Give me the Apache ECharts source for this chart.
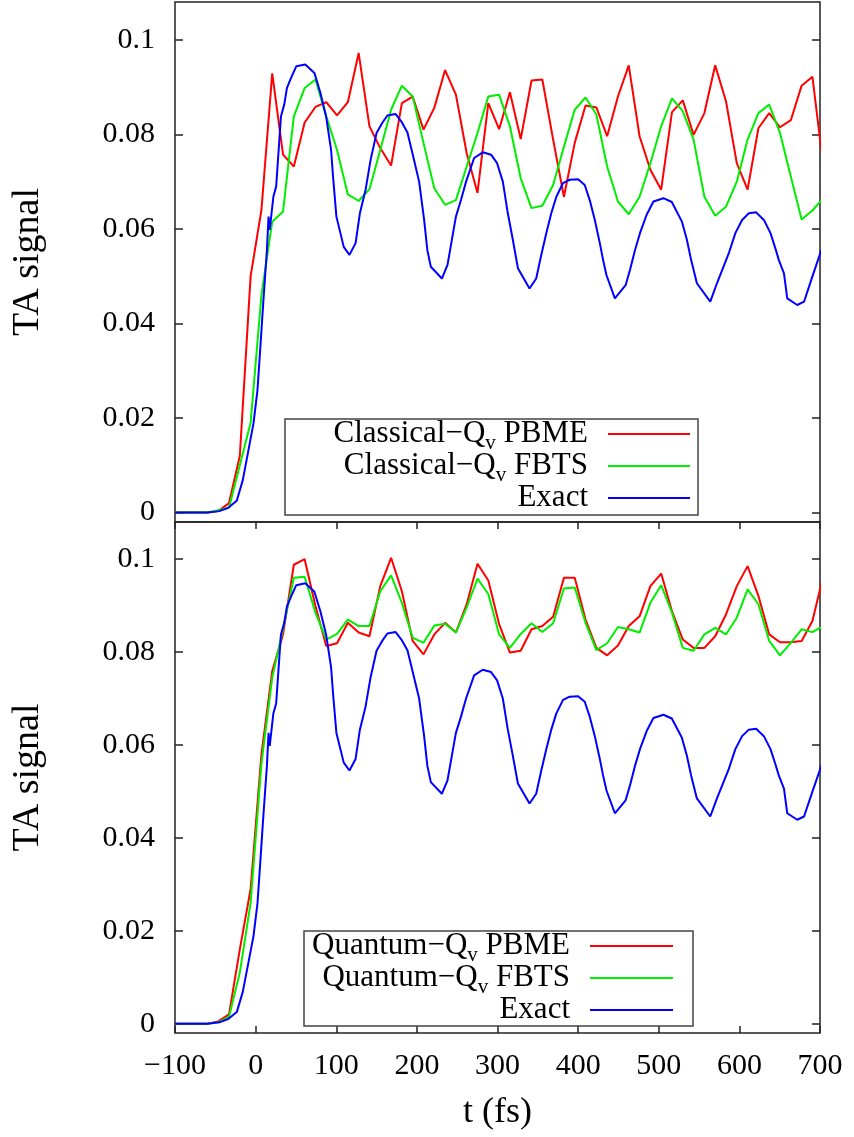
<!DOCTYPE html>
<html>
<head>
<meta charset="utf-8">
<script src="https://cdn.jsdelivr.net/npm/echarts@6/dist/echarts.min.js"></script>
<style>
  html, body { margin: 0; padding: 0; background: #fff; }
  #main { width: 854px; height: 1137px; }
</style>
</head>
<body>
<div id="main"></div>
<script>
// time grid of the PBME / FBTS runs (fs)
const tGrid = [
  -100, -86.6, -73.2, -59.8, -46.4, -33, -19.6, -6.2, 7.2, 20.6,
  34, 47.4, 60.8, 74.2, 87.6, 101, 114.4, 127.8, 141.2, 154.6,
  168, 181.4, 194.8, 208.2, 221.6, 235, 248.4, 261.8, 275.2, 288.6,
  302, 315.4, 328.8, 342.2, 355.6, 369, 382.4, 395.8, 409.2, 422.6,
  436, 449.4, 462.8, 476.2, 489.6, 503, 516.4, 529.8, 543.2, 556.6,
  570, 583.4, 596.8, 610.2, 623.6, 637, 650.4, 663.8, 677.2, 690.6,
  704,
];

// upper panel: classical-Qv
const topPbme = [
  0, 0, 0, 0, 0.0003, 0.002, 0.012, 0.05, 0.064, 0.0929,
  0.0757, 0.0732, 0.0825, 0.0858, 0.0868, 0.084, 0.0868, 0.0972, 0.0817, 0.0771,
  0.0734, 0.0866, 0.088, 0.081, 0.0856, 0.0936, 0.0884, 0.076, 0.0676, 0.0866,
  0.0811, 0.0889, 0.079, 0.0914, 0.0916, 0.0789, 0.0668, 0.0782, 0.0861, 0.0857,
  0.0796, 0.088, 0.0946, 0.0796, 0.0725, 0.0683, 0.0847, 0.0872, 0.0799, 0.0845,
  0.0946, 0.087, 0.0739, 0.0683, 0.0813, 0.0845, 0.0815, 0.083, 0.0903, 0.0922,
  0.0734,
];
const topFbts = [
  0, 0, 0, 0, 0.0005, 0.001, 0.01, 0.019, 0.046, 0.0615,
  0.0637, 0.0838, 0.0898, 0.0916, 0.0838, 0.0767, 0.0673, 0.0659, 0.0684, 0.0767,
  0.0852, 0.0903, 0.088, 0.0782, 0.0686, 0.0651, 0.0661, 0.0732, 0.0803, 0.088,
  0.0884, 0.0817, 0.0707, 0.0644, 0.0649, 0.0693, 0.0774, 0.0852, 0.0878, 0.0842,
  0.0732, 0.0658, 0.0631, 0.0668, 0.0739, 0.0817, 0.0876, 0.0849, 0.0789, 0.0668,
  0.0628, 0.0647, 0.07, 0.0789, 0.0845, 0.0863, 0.0803, 0.0711, 0.062, 0.0639,
  0.0665,
];

// lower panel: quantum-Qv
const botPbme = [
  0, 0, 0, 0, 0.0005, 0.002, 0.016, 0.029, 0.058, 0.0759,
  0.0838, 0.0988, 0.1, 0.0899, 0.0813, 0.0819, 0.0863, 0.0842, 0.0834, 0.0942,
  0.1003, 0.0931, 0.0824, 0.0795, 0.0838, 0.0863, 0.0842, 0.0903, 0.099, 0.0954,
  0.086, 0.0799, 0.0803, 0.0849, 0.0856, 0.0876, 0.096, 0.096, 0.087, 0.0809,
  0.0793, 0.0814, 0.0856, 0.0877, 0.0942, 0.0969, 0.0888, 0.0827, 0.0809, 0.0809,
  0.0834, 0.0881, 0.0942, 0.0985, 0.0921, 0.0838, 0.0821, 0.0821, 0.0824, 0.0867,
  0.0964,
];
const botFbts = [
  0, 0, 0, 0, 0.0003, 0.0015, 0.011, 0.026, 0.056, 0.0745,
  0.085, 0.096, 0.0962, 0.0885, 0.0827, 0.0839, 0.087, 0.0856, 0.0856, 0.0931,
  0.0965, 0.0906, 0.0831, 0.082, 0.0857, 0.0861, 0.0842, 0.0896, 0.0958, 0.0925,
  0.0838, 0.0809, 0.0839, 0.0862, 0.0843, 0.0862, 0.0937, 0.0939, 0.0863, 0.0804,
  0.0819, 0.0854, 0.0849, 0.0842, 0.0906, 0.0944, 0.0885, 0.0809, 0.0803, 0.0838,
  0.0852, 0.0838, 0.0874, 0.0935, 0.0903, 0.0824, 0.0793, 0.082, 0.0849, 0.0843,
  0.0856,
];

// exact result (same in both panels), finer time sampling
const exactT = [
  -100, -80, -60, -45, -34, -23.4, -16, -9, -2.7, 2.3,
  5.6, 9.7, 14, 16, 17.5, 22, 25.5, 31.4, 35.5, 38.8,
  43.8, 50.4, 61.6, 72.9, 80.3, 87.4, 93.6, 96, 100.2, 109.3,
  116.4, 124, 129.3, 136.4, 142.6, 150, 157, 163.4, 173.7, 180.8,
  188.3, 194.5, 202.8, 209, 213, 217.3, 231, 238, 248.4, 254.7,
  261, 271, 281.7, 292, 299.5, 306.6, 312.8, 319, 325.3, 339.7,
  348, 354.3, 360.5, 366.7, 373, 381.3, 389.5, 400, 408.2, 414.4,
  420.7, 426.9, 431, 435.2, 445.6, 458.9, 464.3, 470.5, 476.7, 485,
  493.4, 505.8, 516.2, 528.6, 534.9, 540.2, 547.3, 563.9, 572.2, 586.8,
  595, 603.4, 611.7, 620.8, 630.4, 638.6, 644.8, 649, 655.3, 659.4,
  671.8, 680.2, 690.5, 702,
];
const exactV = [
  0, 0, 0, 0.0003, 0.001, 0.0025, 0.0068, 0.0131, 0.0188, 0.0259,
  0.0343, 0.045, 0.0555, 0.0626, 0.0598, 0.0668, 0.069, 0.0838, 0.0863, 0.0898,
  0.0919, 0.0944, 0.0948, 0.093, 0.0888, 0.0838, 0.0767, 0.0711, 0.0626, 0.0562,
  0.0545, 0.057, 0.0633, 0.0683, 0.0746, 0.0803, 0.0824, 0.084, 0.0843, 0.0827,
  0.0804, 0.076, 0.07, 0.0619, 0.0555, 0.052, 0.0495, 0.0524, 0.0626, 0.0661,
  0.07, 0.075, 0.0762, 0.0757, 0.0739, 0.07, 0.0633, 0.0577, 0.0517, 0.0474,
  0.0495, 0.0545, 0.0591, 0.0633, 0.0668, 0.0697, 0.0704, 0.0705, 0.0693, 0.0661,
  0.0619, 0.057, 0.0534, 0.0502, 0.0453, 0.0481, 0.0513, 0.0555, 0.0591, 0.063,
  0.0658, 0.0665, 0.0657, 0.0616, 0.0577, 0.0534, 0.0485, 0.0446, 0.0485, 0.0548,
  0.0591, 0.0619, 0.0633, 0.0635, 0.0619, 0.0591, 0.0558, 0.0534, 0.0506, 0.0453,
  0.0439, 0.0446, 0.0499, 0.0557,
];

const yTicks = [0, 0.02, 0.04, 0.06, 0.08, 0.1];
const yTickLabels = ["0", "0.02", "0.04", "0.06", "0.08", "0.1"];
const xTicks = [-100, 0, 100, 200, 300, 400, 500, 600, 700];
const xTickLabels = ["\u2212100", "0", "100", "200", "300", "400", "500", "600", "700"];

const topLegend = ["Classical\u2212Q{s|v} PBME", "Classical\u2212Q{s|v} FBTS", "Exact"];
const botLegend = ["Quantum\u2212Q{s|v} PBME", "Quantum\u2212Q{s|v} FBTS", "Exact"];
const colors = ["#ff0000", "#00ee00", "#0000ff"];

const FONT = "Liberation Serif";
const INK = "#222";

const pairs = (ts, vs) => ts.map((t, i) => [t, vs[i]]);

function nearestLabel(ticks, labels, v) {
  let best = 0;
  ticks.forEach((t, i) => {
    if (Math.abs(t - v) < Math.abs(ticks[best] - v)) best = i;
  });
  return labels[best];
}

const tickStyle = { inside: true, length: 8, lineStyle: { color: INK, width: 1.5 } };

function yAxisDef(gridIndex, position, withLabels) {
  return {
    type: "value",
    gridIndex,
    position,
    min: -0.002,
    max: 0.108,
    name: withLabels ? "TA signal" : "",
    nameLocation: "middle",
    nameGap: 128,
    nameTextStyle: { fontFamily: FONT, fontSize: 38, color: "#000" },
    axisLine: { show: false, onZero: false },
    splitLine: { show: false },
    axisTick: Object.assign({ customValues: yTicks }, tickStyle),
    axisLabel: {
      show: withLabels,
      customValues: yTicks,
      margin: 20,
      fontFamily: FONT,
      fontSize: 30,
      color: "#000",
      formatter: (v) => nearestLabel(yTicks, yTickLabels, v),
    },
  };
}

function xAxisDef(gridIndex, position, withTicks, withLabels) {
  return {
    type: "value",
    gridIndex,
    position,
    min: -100,
    max: 700,
    interval: 100,
    name: withLabels ? "t (fs)" : "",
    nameLocation: "middle",
    nameGap: 62,
    nameTextStyle: { fontFamily: FONT, fontSize: 36, color: "#000" },
    axisLine: { show: false, onZero: false },
    splitLine: { show: false },
    axisTick: Object.assign({ show: withTicks }, tickStyle, { length: 7 }),
    axisLabel: {
      show: withLabels,
      margin: 18,
      fontFamily: FONT,
      fontSize: 30,
      color: "#000",
      formatter: (v) => nearestLabel(xTicks, xTickLabels, v),
    },
  };
}

function line(name, data, color, xAxisIndex, yAxisIndex) {
  return {
    type: "line",
    name,
    data,
    xAxisIndex,
    yAxisIndex,
    showSymbol: false,
    symbol: "none",
    clip: true,
    lineStyle: { color, width: 2 },
    emphasis: { disabled: true },
  };
}

/**
 * Legend boxes drawn as graphics : text right aligned, sample line on the right
 */
function legendBox(labels, box, textRight, lineX0, lineX1, rows) {
  const items = [
    {
      type: "rect",
      shape: { x: box[0], y: box[1], width: box[2], height: box[3] },
      style: { fill: "#fff", stroke: "#444", lineWidth: 1.5 },
      z: 100,
    },
  ];
  labels.forEach((lab, i) => {
    items.push({
      type: "text",
      x: textRight,
      y: rows[i],
      z: 101,
      style: {
        text: lab,
        align: "right",
        verticalAlign: "middle",
        fontFamily: FONT,
        fontSize: 31,
        fill: "#000",
        rich: {
          s: { fontFamily: FONT, fontSize: 21, lineHeight: 21, padding: [18, 0, 0, 0], fill: "#000" },
        },
      },
    });
    items.push({
      type: "line",
      z: 101,
      shape: { x1: lineX0, y1: rows[i], x2: lineX1, y2: rows[i] },
      style: { stroke: colors[i], lineWidth: 2 },
    });
  });
  return items;
}

const chart = echarts.init(document.getElementById("main"), null, { renderer: "canvas" });

const gridStyle = { show: true, borderColor: INK, borderWidth: 1.5, backgroundColor: "transparent" };

chart.setOption({
  animation: false,
  backgroundColor: "#fff",
  grid: [
    Object.assign({ left: 175, right: 34, top: 2, height: 520 }, gridStyle),
    Object.assign({ left: 175, right: 34, top: 522, height: 511 }, gridStyle),
  ],
  xAxis: [
    xAxisDef(0, "bottom", false, false),
    xAxisDef(1, "bottom", true, true),
    xAxisDef(1, "top", true, false),
  ],
  yAxis: [
    yAxisDef(0, "left", true),
    yAxisDef(0, "right", false),
    yAxisDef(1, "left", true),
    yAxisDef(1, "right", false),
  ],
  series: [
    line("top PBME", pairs(tGrid, topPbme), colors[0], 0, 0),
    line("top FBTS", pairs(tGrid, topFbts), colors[1], 0, 0),
    line("top Exact", pairs(exactT, exactV), colors[2], 0, 0),
    line("bottom PBME", pairs(tGrid, botPbme), colors[0], 1, 2),
    line("bottom FBTS", pairs(tGrid, botFbts), colors[1], 1, 2),
    line("bottom Exact", pairs(exactT, exactV), colors[2], 1, 2),
  ],
  graphic: [
    ...legendBox(topLegend, [285, 419, 413, 96], 588, 608, 690, [434, 466, 498]),
    ...legendBox(botLegend, [304, 931, 389, 95], 570, 590, 673, [946, 978, 1010]),
  ],
});
</script>
</body>
</html>
